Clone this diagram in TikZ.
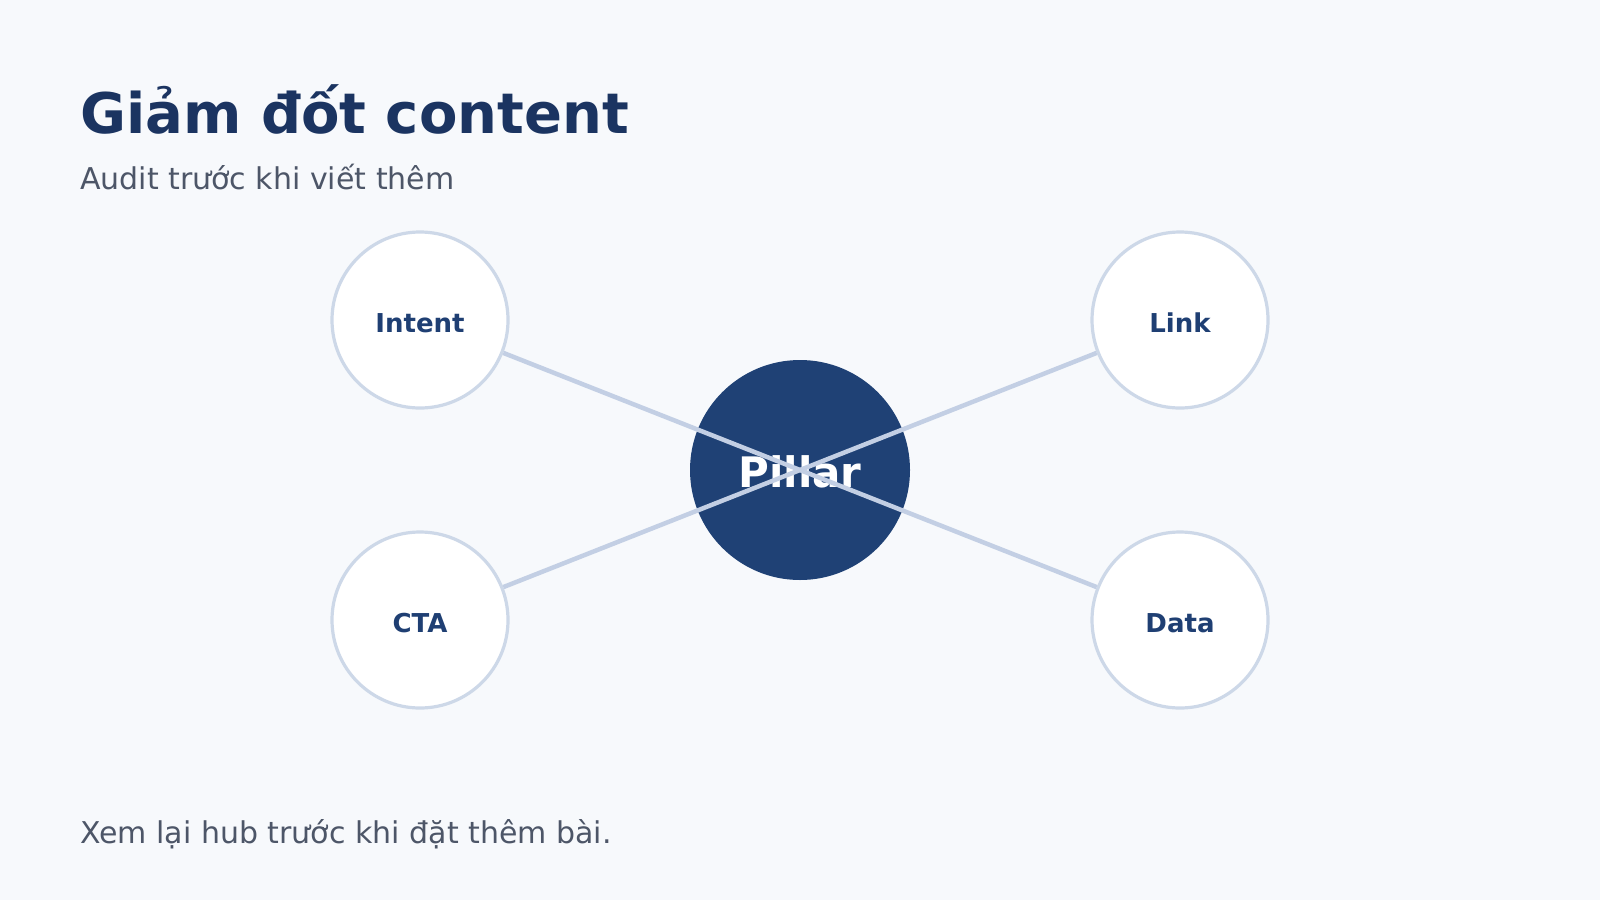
\documentclass[tikz,border=0pt]{standalone}
\usepackage{fontspec}
\setmainfont{DejaVu Sans}
\definecolor{bgc}{HTML}{F7F9FC}
\definecolor{titlec}{HTML}{1B3461}
\definecolor{subc}{HTML}{4D5668}
\definecolor{pillarc}{HTML}{1F4175}
\definecolor{linec}{HTML}{C3CFE4}
\definecolor{ringc}{HTML}{CDD8E8}
\definecolor{labelc}{HTML}{1F3F73}
\tikzset{
  sat/.style={circle, draw=ringc, line width=3.2pt, fill=white, minimum size=176pt, inner sep=0pt},
  satlabel/.style={anchor=base, inner sep=0pt, text=labelc, font=\fontsize{26}{30}\selectfont\bfseries},
  hub/.style={circle, fill=pillarc, minimum size=220pt, inner sep=0pt},
  link/.style={draw=linec, line width=4.5pt},
  txt/.style={anchor=base west, inner sep=0pt}
}
\begin{document}
\begin{tikzpicture}[x=1pt,y=-1pt]
\fill[bgc] (0,0) rectangle (1600,900);
\useasboundingbox (0,0) rectangle (1600,900);
\node[txt, text=titlec, font=\fontsize{56}{64}\selectfont\bfseries] (title) at (80,133) {Giảm đốt content};
\node[txt, text=subc, font=\fontsize{30}{36}\selectfont] (sub) at (80,189) {Audit trước khi viết thêm};
\node[txt, text=subc, font=\fontsize{30}{36}\selectfont] (foot) at (80,843) {Xem lại hub trước khi đặt thêm bài.};
\node[hub] (pillar) at (800,470) {};
\node[anchor=base, inner sep=0pt, text=white, font=\fontsize{42}{48}\selectfont\bfseries] (pillarlabel) at (800,487) {Pillar};
\node[sat] (intent) at (420,320) {};
\node[sat] (link) at (1180,320) {};
\node[sat] (cta) at (420,620) {};
\node[sat] (data) at (1180,620) {};
\draw[link] (intent) -- (data);
\draw[link] (cta) -- (link);
\node[satlabel] (intentl) at (420,332) {Intent};
\node[satlabel] (linkl) at (1180,332) {Link};
\node[satlabel] (ctal) at (420,632) {CTA};
\node[satlabel] (datal) at (1180,632) {Data};
\end{tikzpicture}
\end{document}
